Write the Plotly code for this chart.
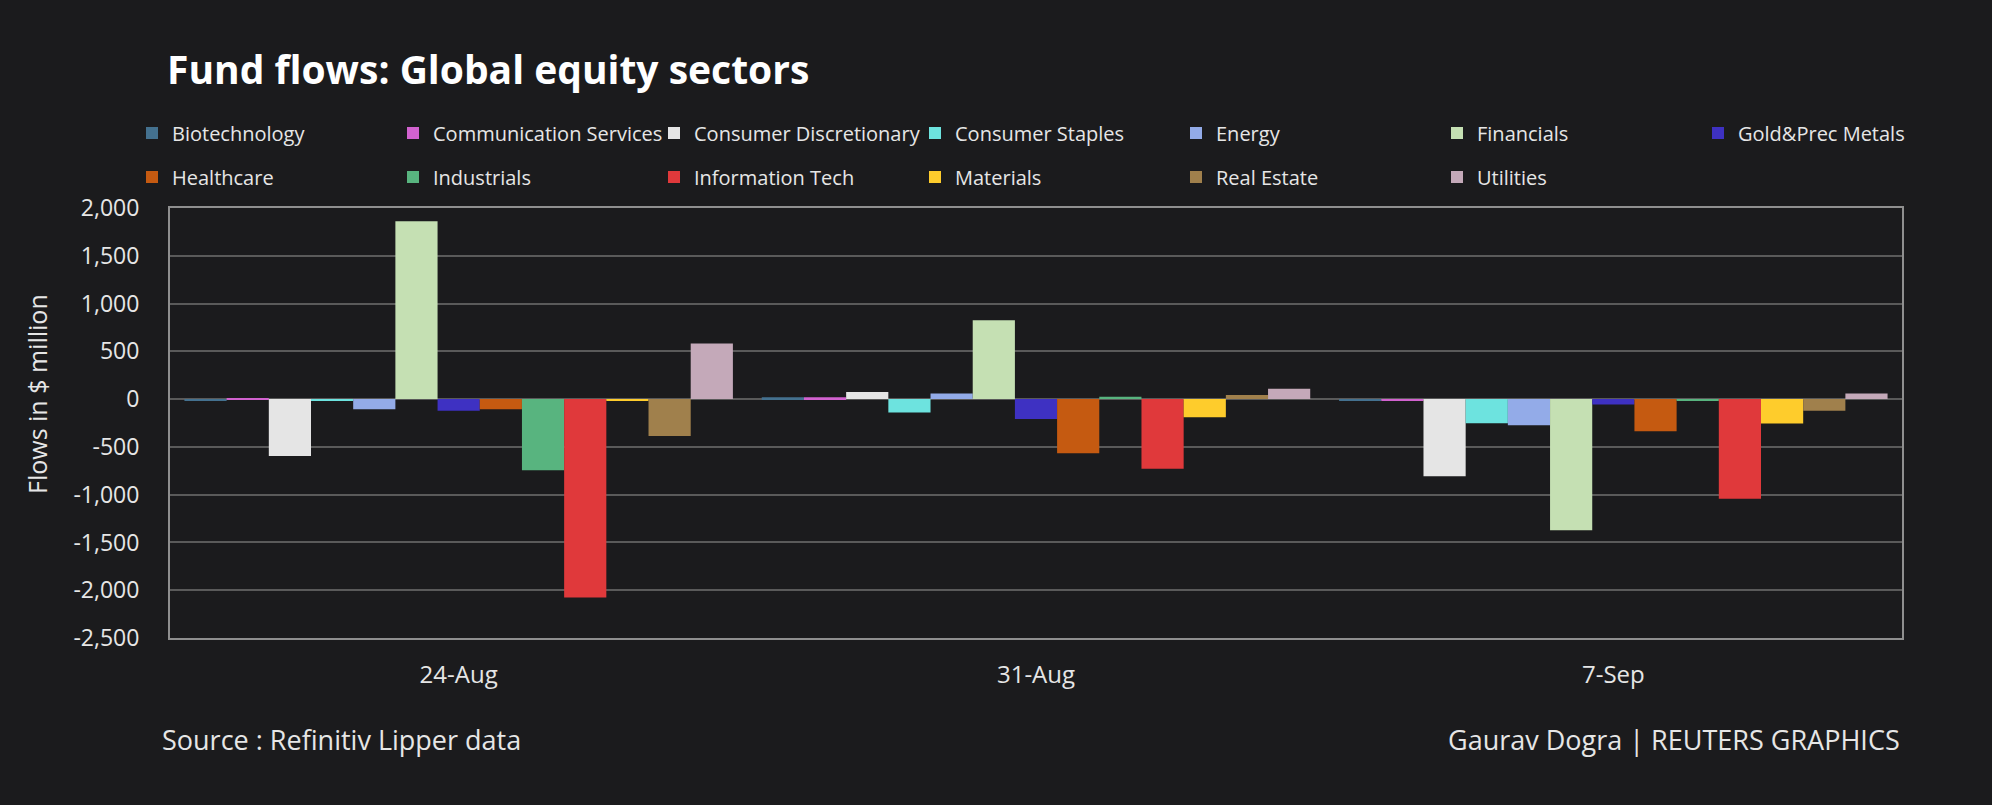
import plotly.graph_objects as go

# ---- data ----
weeks = ["24-Aug", "31-Aug", "7-Sep"]
sectors = ["Biotechnology", "Communication Services", "Consumer Discretionary",
           "Consumer Staples", "Energy", "Financials", "Gold&Prec Metals",
           "Healthcare", "Industrials", "Information Tech", "Materials",
           "Real Estate", "Utilities"]
biotechnology = [-15, 20, -15]
communication_services = [8, 20, -20]
consumer_discretionary = [-595, 74, -808]
consumer_staples = [-15, -140, -252]
energy = [-105, 60, -273]
financials = [1862, 826, -1372]
gold_prec_metals = [-122, -207, -56]
healthcare = [-105, -567, -336]
industrials = [-745, 25, -15]
information_tech = [-2075, -728, -1043]
materials = [-20, -189, -255]
real_estate = [-385, 42, -122]
utilities = [581, 108, 60]
series = [biotechnology, communication_services, consumer_discretionary,
          consumer_staples, energy, financials, gold_prec_metals, healthcare,
          industrials, information_tech, materials, real_estate, utilities]
y_tickvals = [2000, 1500, 1000, 500, 0, -500, -1000, -1500, -2000, -2500]
y_ticktext = [f"{v:,}" for v in y_tickvals]

colors = ["#44718f", "#d262cf", "#e5e5e5", "#6de3df", "#93abe8", "#c5e0b3",
          "#3e31c2", "#c55a11", "#58b47f", "#e0393b", "#fecc2c", "#a0804c",
          "#c4a9b9"]

FONT = "Open Sans"
BG = "#1b1b1d"
TXT = "#e6e6e6"

fig = go.Figure()
for i, (name, vals) in enumerate(zip(sectors, series)):
    fig.add_trace(go.Bar(
        x=weeks, y=vals, name=name,
        marker=dict(color=colors[i], line=dict(width=0)),
        legend="legend" if i < 7 else "legend2",
    ))

L, R, T, B = 170, 90, 208, 167
W, H = 1992, 805
pw, ph = W - L - R, H - T - B

def px_x(x):
    return (x - L) / pw

def px_y(y):
    return (H - B - y) / ph

legend_common = dict(
    orientation="h", xanchor="left", yanchor="middle",
    font=dict(family=FONT, size=20, color=TXT),
    bgcolor="rgba(0,0,0,0)", borderwidth=0,
    entrywidth=216, entrywidthmode="pixels",
    itemclick=False, itemdoubleclick=False,
)

fig.update_layout(
    width=W, height=H,
    paper_bgcolor=BG, plot_bgcolor=BG,
    margin=dict(l=L, r=R, t=T, b=B),
    barmode="group", bargap=0.05, bargroupgap=0,
    showlegend=True,
    legend=dict(x=px_x(132), y=px_y(133), **legend_common),
    legend2=dict(x=px_x(132), y=px_y(177), **legend_common),
    title=dict(text="<b>Fund flows: Global equity sectors</b>",
               font=dict(family=FONT, size=39, color="#ffffff"),
               x=167 / W, xref="container", xanchor="left",
               y=1 - 70 / H, yref="container", yanchor="middle"),
    font=dict(family=FONT, color=TXT),
)

fig.update_xaxes(
    type="category", showgrid=False, ticks="",
    tickfont=dict(family=FONT, size=24, color=TXT),
    ticklabelstandoff=14,
    showline=True, linecolor="#8f8f8f", linewidth=2, mirror=True,
    zeroline=False,
)
fig.update_yaxes(
    range=[-2500, 2000], tickvals=y_tickvals, ticktext=y_ticktext,
    tickfont=dict(family=FONT, size=23, color=TXT),
    ticks="", ticklabelstandoff=24,
    showgrid=True, gridcolor="#5a5a5a", gridwidth=2,
    zeroline=True, zerolinecolor="#5a5a5a", zerolinewidth=2,
    showline=True, linecolor="#8f8f8f", linewidth=2, mirror=True,
)

fig.add_annotation(text="Flows in $ million", textangle=-90,
                   xref="paper", yref="paper", x=px_x(37), y=px_y(394),
                   xanchor="center", yanchor="middle", showarrow=False,
                   font=dict(family=FONT, size=25, color=TXT))
fig.add_annotation(text="Source : Refinitiv Lipper data",
                   xref="paper", yref="paper", x=px_x(160), y=px_y(739),
                   xanchor="left", yanchor="middle", showarrow=False,
                   font=dict(family=FONT, size=27, color=TXT))
fig.add_annotation(text="Gaurav Dogra | REUTERS GRAPHICS",
                   xref="paper", yref="paper", x=1, y=px_y(739),
                   xanchor="right", yanchor="middle", showarrow=False,
                   font=dict(family=FONT, size=27, color=TXT))

fig.write_html("out.html")
